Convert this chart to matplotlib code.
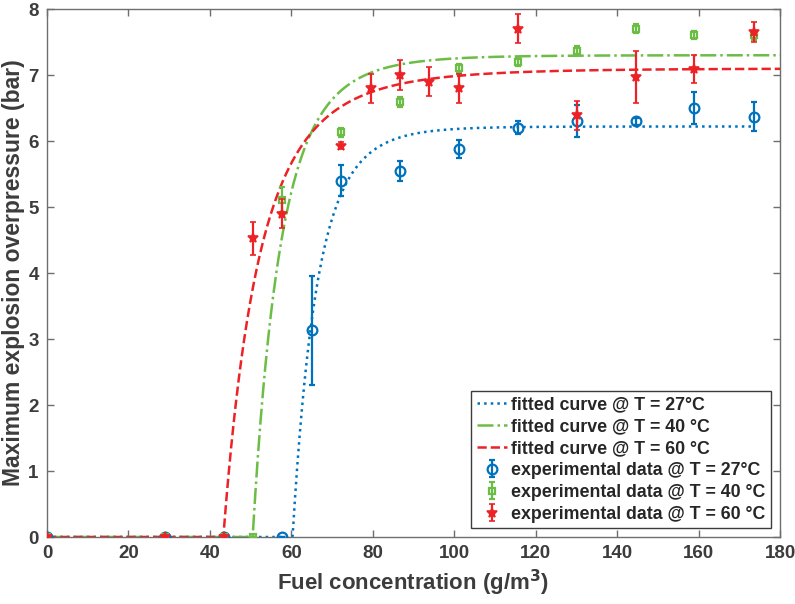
import numpy as np
import matplotlib
matplotlib.use("Agg")
import matplotlib.pyplot as plt

plt.rcParams['font.family'] = ['Liberation Sans', 'DejaVu Sans']
plt.rcParams['font.weight'] = 'bold'

# ---- experimental data ----
x_27 = [0, 28.9, 43.4, 57.8, 65.1, 72.3, 86.7, 101.2, 115.6, 130.1, 144.6, 159.0, 173.5]
y_27 = [0, 0, 0, 0, 3.13, 5.40, 5.55, 5.88, 6.20, 6.30, 6.30, 6.50, 6.37]
e_27 = [0, 0, 0, 0, 0.82, 0.24, 0.15, 0.14, 0.10, 0.24, 0.05, 0.24, 0.22]

x_40 = [0, 28.9, 43.4, 50.6, 57.8, 72.3, 86.7, 101.2, 115.6, 130.1, 144.6, 159.0, 173.5]
y_40 = [0, 0, 0, 0, 5.11, 6.13, 6.59, 7.10, 7.20, 7.37, 7.70, 7.60, 7.60]
e_40 = [0, 0, 0, 0, 0.19, 0.07, 0.08, 0.07, 0.07, 0.07, 0.07, 0.06, 0.07]

x_60 = [0, 28.9, 43.4, 50.6, 57.8, 72.3, 79.5, 86.7, 93.9, 101.2, 115.6, 130.1, 144.6, 159.0, 173.5]
y_60 = [0, 0, 0, 4.53, 4.90, 5.93, 6.80, 7.00, 6.90, 6.80, 7.70, 6.39, 6.97, 7.09, 7.65]
e_60 = [0, 0, 0, 0.25, 0.22, 0.05, 0.22, 0.22, 0.22, 0.22, 0.22, 0.22, 0.39, 0.21, 0.15]

# ---- fitted-curve parameters: y = A * (1 - (x0/x)^n) for x > x0 ----
fit_x0 = [60.3, 50.5, 43.3]
fit_A = [6.22, 7.30, 7.10]
fit_n = [10.0, 7.3, 4.9]
fit_xmax = [173.5, 180, 180]

labels_fit = ['fitted curve @ T = 27°C', 'fitted curve @ T = 40 °C', 'fitted curve @ T = 60 °C']
labels_exp = ['experimental data @ T = 27°C', 'experimental data @ T = 40 °C', 'experimental data @ T = 60 °C']

x_ticks = [0, 20, 40, 60, 80, 100, 120, 140, 160, 180]
y_ticks = [0, 1, 2, 3, 4, 5, 6, 7, 8]

c_blue = '#0072BD'
c_green = '#6CBD45'
c_red = '#EC2227'
colors = [c_blue, c_green, c_red]
styles = [':', '-.', '--']

txt = '#3c3c3c'
spine = '#6e6e6e'

fig = plt.figure(figsize=(7.95, 6.04), dpi=100)
ax = fig.add_axes([47/795, 1 - 537/604, 733/795, 528/604])

for i in range(3):
    xs = np.linspace(0, fit_xmax[i], 2000)
    ys = np.where(xs > fit_x0[i], fit_A[i] * (1 - (fit_x0[i] / np.maximum(xs, 1e-9)) ** fit_n[i]), 0.0)
    ax.plot(xs, ys, linestyle=styles[i], color=colors[i], lw=1.8, label=labels_fit[i], zorder=2)

ax.errorbar(x_27, y_27, yerr=e_27, fmt='o', color=c_blue, mfc='none', mec=c_blue,
            ms=7, mew=1.6, elinewidth=1.6, capsize=2.5, capthick=1.6, label=labels_exp[0], zorder=3)
ax.errorbar(x_40, y_40, yerr=e_40, fmt='s', color=c_green, mfc='none', mec=c_green,
            ms=5, mew=1.6, elinewidth=1.6, capsize=2.5, capthick=1.6, label=labels_exp[1], zorder=3)
ax.errorbar(x_60, y_60, yerr=e_60, fmt='*', color=c_red, mfc=c_red, mec=c_red,
            ms=7, mew=1.2, elinewidth=1.6, capsize=2.5, capthick=1.6, label=labels_exp[2], zorder=4)

ax.set_xlim(0, 180)
ax.set_ylim(0, 8)
ax.set_xticks(x_ticks)
ax.set_yticks(y_ticks)
ax.tick_params(direction='in', length=5, width=1, colors=spine, labelcolor=txt,
               labelsize=13.5, top=True, right=True, pad=6)
for lab in ax.get_xticklabels() + ax.get_yticklabels():
    lab.set_fontweight('bold')
for s in ax.spines.values():
    s.set_color(spine)
    s.set_linewidth(1)

ax.set_xlabel('Fuel concentration (g/m$^{\\mathbf{3}}$)', fontsize=16, fontweight='bold', color=txt, labelpad=4)
ax.set_ylabel('Maximum explosion overpressure (bar)', fontsize=16.5, fontweight='bold', color=txt, labelpad=2)

leg = ax.legend(loc='lower right', fontsize=12.8, frameon=True, fancybox=False,
                edgecolor='#3c3c3c', framealpha=1, handlelength=1.7, handletextpad=0.25,
                labelspacing=0.28, borderpad=0.3, borderaxespad=0.5)
leg.get_frame().set_linewidth(1)
for t in leg.get_texts():
    t.set_color('#262626')

fig.savefig('out.png', dpi=100)
